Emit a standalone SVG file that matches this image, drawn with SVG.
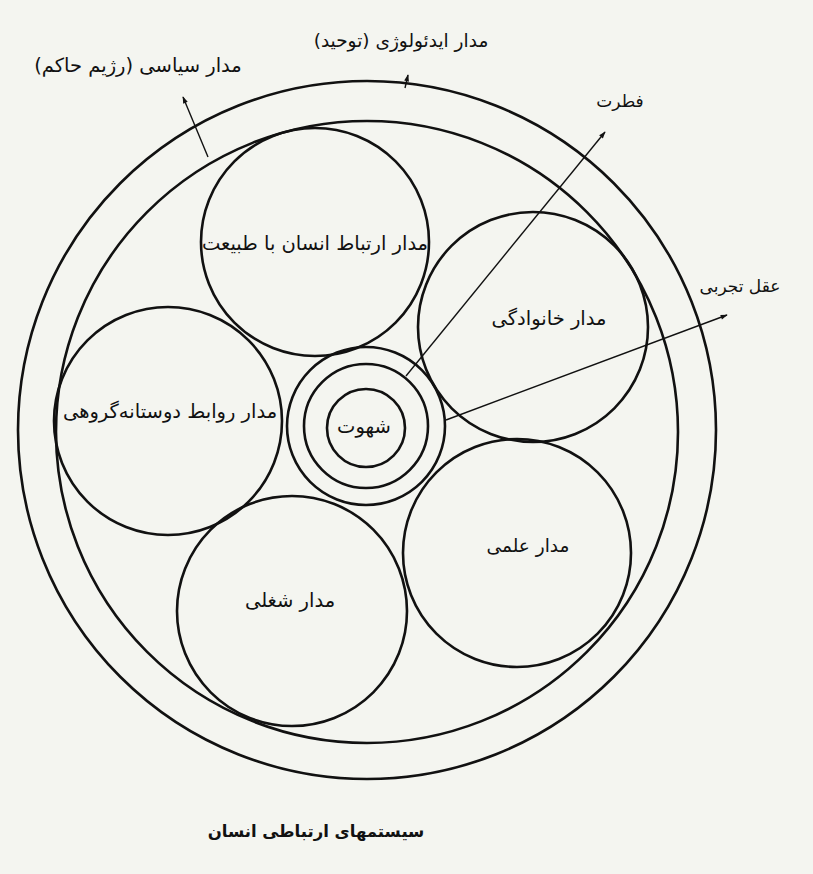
<svg xmlns="http://www.w3.org/2000/svg" width="813" height="874" viewBox="0 0 813 874">
<style>
.c{fill:none;stroke:#111;stroke-width:2.6}
.a{fill:none;stroke:#111;stroke-width:1.4}
.t{font-family:"DejaVu Sans",sans-serif;font-size:19.5px;fill:#111;text-anchor:middle;direction:rtl}
.s{font-size:18.5px}
.m{font-size:17px}
.b{font-weight:bold;font-size:16.5px}
</style>
<defs>
<marker id="ah" viewBox="0 0 10 10" refX="9" refY="5" markerWidth="9" markerHeight="7" orient="auto" markerUnits="userSpaceOnUse">
<path d="M0,1.5 L10,5 L0,8.5 z" fill="#111"/>
</marker>
</defs>
<rect width="813" height="874" fill="#f4f5f0"/>
<g id="ideology"><circle class="c" cx="367" cy="430" r="349"/>
<text class="t s" x="401" y="47">مدار ایدئولوژی (توحید)</text></g>
<g id="political"><circle class="c" cx="367" cy="432" r="311"/>
<text class="t" x="138" y="72">مدار سیاسی (رژیم حاکم)</text></g>
<g id="nature"><circle class="c" cx="315" cy="242" r="114"/>
<text class="t" x="315" y="250">مدار ارتباط انسان با طبیعت</text></g>
<g id="family"><circle class="c" cx="533" cy="327" r="115"/>
<text class="t" x="549" y="325">مدار خانوادگی</text></g>
<g id="friends"><circle class="c" cx="168" cy="421" r="114"/>
<text class="t" x="170" y="418">مدار روابط دوستانه‌گروهی</text></g>
<g id="science"><circle class="c" cx="517" cy="553" r="114"/>
<text class="t s" x="528" y="552">مدار علمی</text></g>
<g id="job"><circle class="c" cx="292" cy="611" r="115"/>
<text class="t" x="290" y="607">مدار شغلی</text></g>
<g id="core"><circle class="c" cx="366" cy="426" r="79"/><circle class="c" cx="366" cy="426" r="62"/><circle class="c" cx="366" cy="428" r="39"/>
<text class="t" x="364" y="433">شهوت</text></g>
<g id="fitrat"><text class="t m" x="620" y="107">فطرت</text></g>
<g id="aql"><text class="t m" x="740" y="292">عقل تجربی</text></g>
<g id="connectors">
<line class="a" x1="406" y1="376" x2="605" y2="132" marker-end="url(#ah)"/>
<line class="a" x1="446" y1="420" x2="727" y2="315" marker-end="url(#ah)"/>
<line class="a" x1="208" y1="157" x2="183" y2="97" marker-end="url(#ah)"/>
<line class="a" x1="405" y1="88" x2="408" y2="75" marker-end="url(#ah)"/>
</g>
<text class="t b" x="316" y="837">سیستمهای ارتباطی انسان</text>
</svg>
